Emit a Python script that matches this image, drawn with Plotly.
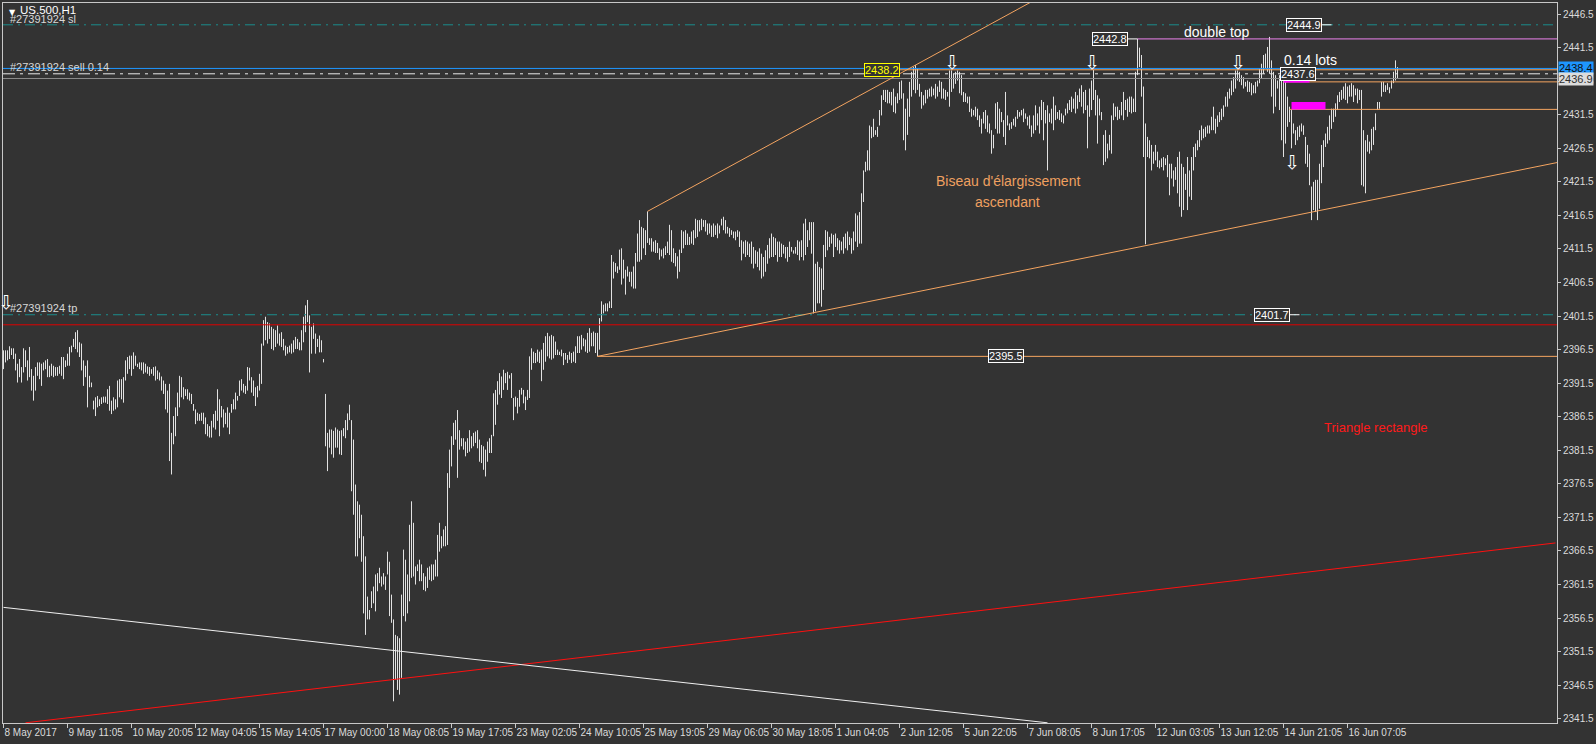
import plotly.graph_objects as go

# ---------------- data ----------------
tick_bars = [0, 32, 64, 96, 128, 160, 192, 224, 256, 288, 320, 352, 384, 416,
             448, 480, 512, 544, 576, 608, 640, 672]
tick_labels = ["8 May 2017", "9 May 11:05", "10 May 20:05", "12 May 04:05", "15 May 14:05",
               "17 May 00:00", "18 May 08:05", "19 May 17:05", "23 May 02:05", "24 May 10:05",
               "25 May 19:05", "29 May 06:05", "30 May 18:05", "1 Jun 04:05", "2 Jun 12:05",
               "5 Jun 22:05", "7 Jun 08:05", "8 Jun 17:05", "12 Jun 03:05", "13 Jun 12:05",
               "14 Jun 21:05", "16 Jun 07:05"]

# H1 bars, 8 May -> 16 May (bars 0-168)
high_a = [2396.4, 2396.4, 2396.4, 2397.0, 2396.7, 2396.7, 2395.9, 2394.4, 2395.1, 2393.9,
          2396.7, 2396.4, 2394.9, 2396.9, 2393.6, 2392.6, 2393.9, 2394.6, 2394.6, 2394.4,
          2394.6, 2394.9, 2395.1, 2394.1, 2394.4, 2394.1, 2393.9, 2393.9, 2394.1, 2395.4,
          2395.4, 2394.9, 2395.9, 2396.9, 2397.1, 2398.1, 2399.1, 2399.4, 2397.6, 2397.4,
          2394.9, 2394.1, 2394.9, 2392.6, 2391.6, 2388.9, 2389.4, 2389.6, 2389.1, 2389.4,
          2389.5, 2389.5, 2390.6, 2391.1, 2388.9, 2389.4, 2389.1, 2391.9, 2392.1, 2392.1,
          2392.4, 2394.9, 2395.4, 2395.6, 2395.6, 2396.1, 2395.6, 2394.4, 2394.6, 2394.6,
          2394.6, 2394.4, 2394.0, 2393.9, 2393.6, 2393.9, 2394.0, 2393.4, 2393.1, 2392.5,
          2391.9, 2391.4, 2390.4, 2391.4, 2384.1, 2386.6, 2387.9, 2390.1, 2392.6, 2392.4,
          2390.9, 2390.6, 2390.6, 2390.1, 2389.9, 2388.4, 2387.6, 2387.1, 2386.9, 2387.1,
          2387.1, 2386.4, 2385.4, 2385.1, 2385.9, 2386.9, 2387.4, 2390.6, 2389.1, 2388.1,
          2387.6, 2387.1, 2387.9, 2387.1, 2388.4, 2389.1, 2390.1, 2389.6, 2391.9, 2392.1,
          2391.4, 2391.1, 2393.9, 2393.8, 2392.4, 2391.9, 2390.9, 2391.1, 2392.9, 2397.4,
          2400.9, 2401.4, 2400.6, 2400.4, 2399.9, 2399.6, 2399.4, 2400.1, 2398.9, 2399.1,
          2398.1, 2397.1, 2396.9, 2397.1, 2397.4, 2397.9, 2398.4, 2398.1, 2397.6, 2399.4,
          2401.4, 2403.1, 2403.9, 2401.6, 2399.9, 2400.4, 2398.9, 2398.1, 2398.6, 2397.9,
          2395.1, 2389.9, 2384.1, 2384.6, 2384.6, 2384.4, 2384.9, 2384.6, 2384.4]
low_a = [2393.6, 2394.6, 2394.9, 2395.1, 2395.7, 2395.1, 2393.4, 2391.6, 2392.4, 2391.6,
         2393.1, 2393.9, 2391.9, 2392.4, 2390.4, 2388.9, 2390.4, 2392.6, 2392.1, 2391.1,
         2393.4, 2393.6, 2392.4, 2392.4, 2392.6, 2392.4, 2392.6, 2392.6, 2392.9, 2392.6,
         2392.1, 2393.9, 2394.1, 2394.1, 2396.1, 2396.9, 2396.6, 2396.1, 2395.4, 2393.4,
         2391.1, 2392.4, 2387.9, 2390.9, 2390.9, 2387.6, 2386.6, 2387.9, 2388.1, 2388.4,
         2388.6, 2388.6, 2388.4, 2387.4, 2386.9, 2387.4, 2387.6, 2387.9, 2389.4, 2389.1,
         2388.6, 2391.9, 2392.9, 2393.6, 2392.6, 2393.6, 2394.1, 2393.9, 2393.6, 2393.4,
         2392.9, 2393.1, 2392.9, 2392.6, 2392.9, 2392.6, 2391.9, 2392.1, 2391.9, 2390.4,
         2389.9, 2387.6, 2387.1, 2379.9, 2377.9, 2382.4, 2383.6, 2386.6, 2387.9, 2389.4,
         2389.1, 2389.6, 2389.1, 2388.9, 2388.4, 2387.4, 2385.4, 2385.9, 2385.9, 2385.9,
         2385.4, 2383.9, 2383.6, 2383.4, 2383.4, 2384.9, 2384.6, 2385.9, 2383.6, 2386.4,
         2384.9, 2385.4, 2384.9, 2383.9, 2387.1, 2387.6, 2387.6, 2388.9, 2389.6, 2390.4,
         2390.1, 2389.9, 2390.4, 2391.9, 2390.1, 2389.6, 2388.1, 2389.4, 2390.4, 2391.4,
         2397.1, 2397.9, 2397.4, 2398.1, 2396.6, 2396.4, 2396.9, 2397.4, 2397.1, 2396.9,
         2396.4, 2395.6, 2395.9, 2396.1, 2395.9, 2396.1, 2396.6, 2396.6, 2396.4, 2396.4,
         2397.6, 2399.1, 2400.6, 2393.1, 2395.9, 2398.1, 2395.9, 2396.9, 2396.1, 2396.1,
         2394.6, 2382.1, 2378.4, 2381.9, 2380.9, 2380.4, 2381.9, 2381.9, 2380.9]

# bars 169-343
high_b = [2384.5, 2384.8, 2386.0, 2387.0, 2388.3, 2386.0, 2383.1, 2376.4, 2373.9, 2373.4,
          2371.9, 2368.7, 2365.7, 2359.7, 2357.7, 2360.5, 2361.2, 2363.0, 2363.2, 2364.0,
          2362.7, 2363.2, 2362.7, 2366.4, 2364.9, 2360.0, 2356.3, 2354.0, 2353.8, 2353.5,
          2360.0, 2366.7, 2365.2, 2363.0, 2370.4, 2373.9, 2370.7, 2364.2, 2364.5, 2365.2,
          2364.5, 2363.2, 2362.7, 2364.0, 2364.2, 2364.5, 2364.5, 2365.2, 2368.9, 2370.7,
          2368.7, 2369.7, 2370.2, 2378.1, 2381.6, 2383.6, 2385.6, 2386.0, 2387.5, 2384.5,
          2383.3, 2383.3, 2382.8, 2383.3, 2384.5, 2383.6, 2384.1, 2384.3, 2384.5, 2383.1,
          2382.3, 2382.1, 2381.6, 2382.8, 2383.3, 2383.8, 2390.0, 2390.5, 2391.8, 2393.0,
          2392.5, 2393.5, 2393.0, 2393.2, 2392.7, 2393.0, 2389.3, 2389.5, 2389.3, 2390.5,
          2390.8, 2390.5, 2389.5, 2390.5, 2395.5, 2396.7, 2396.2, 2396.0, 2396.5, 2396.2,
          2396.5, 2397.5, 2398.5, 2399.0, 2398.5, 2398.7, 2398.5, 2397.7, 2396.5, 2396.2,
          2396.5, 2396.0, 2396.0, 2395.7, 2396.2, 2396.0, 2396.2, 2397.0, 2398.5, 2398.5,
          2398.7, 2398.2, 2398.0, 2399.0, 2399.7, 2399.0, 2399.2, 2399.0, 2399.0, 2401.2,
          2403.7, 2403.2, 2403.4, 2403.4, 2403.7, 2410.6, 2409.6, 2409.4, 2408.9, 2411.4,
          2411.6, 2409.9, 2408.4, 2408.9, 2408.1, 2408.1, 2408.9, 2410.9, 2413.8, 2415.8,
          2414.8, 2414.6, 2414.3, 2417.1, 2413.1, 2413.1, 2412.6, 2412.8, 2412.4, 2411.6,
          2411.4, 2411.6, 2411.9, 2412.6, 2415.1, 2414.3, 2411.6, 2410.9, 2410.4, 2411.4,
          2414.3, 2414.1, 2414.3, 2413.8, 2413.3]
low_b = [2380.8, 2383.6, 2383.3, 2384.5, 2386.0, 2375.4, 2371.9, 2365.7, 2365.7, 2368.4,
         2364.9, 2357.2, 2354.0, 2356.3, 2356.3, 2358.0, 2358.7, 2357.5, 2360.5, 2361.7,
         2361.2, 2361.5, 2360.7, 2363.0, 2356.8, 2355.8, 2344.1, 2347.3, 2345.8, 2345.1,
         2347.6, 2356.8, 2356.0, 2357.2, 2359.0, 2362.5, 2362.7, 2361.5, 2363.5, 2362.0,
         2362.0, 2360.7, 2360.5, 2361.0, 2362.2, 2362.0, 2362.2, 2362.7, 2362.7, 2366.4,
         2366.9, 2367.2, 2367.2, 2367.4, 2375.9, 2379.1, 2382.3, 2383.1, 2377.4, 2381.6,
         2382.1, 2381.6, 2380.6, 2381.1, 2381.3, 2381.8, 2382.1, 2382.6, 2381.8, 2379.8,
         2379.6, 2378.6, 2377.6, 2379.8, 2381.1, 2381.1, 2383.6, 2385.3, 2388.3, 2389.8,
         2389.3, 2390.5, 2391.5, 2390.5, 2392.2, 2389.3, 2386.0, 2388.0, 2387.0, 2388.0,
         2389.8, 2388.5, 2387.5, 2389.0, 2389.3, 2393.5, 2394.5, 2394.5, 2394.7, 2394.5,
         2391.8, 2393.5, 2394.7, 2395.5, 2395.2, 2395.0, 2395.2, 2395.7, 2395.7, 2395.7,
         2395.5, 2394.2, 2395.0, 2394.5, 2395.0, 2394.5, 2394.7, 2394.5, 2396.0, 2396.0,
         2396.5, 2397.0, 2396.2, 2396.0, 2396.2, 2397.0, 2397.0, 2396.0, 2395.5, 2396.5,
         2400.7, 2401.9, 2402.2, 2402.2, 2402.7, 2402.7, 2407.1, 2408.1, 2407.9, 2408.4,
         2406.2, 2407.1, 2404.7, 2407.4, 2406.6, 2405.9, 2405.6, 2405.6, 2409.6, 2409.6,
         2409.9, 2411.6, 2410.6, 2412.4, 2412.1, 2411.1, 2411.1, 2410.9, 2410.9, 2409.9,
         2410.4, 2410.1, 2410.6, 2410.9, 2410.6, 2409.6, 2409.4, 2408.9, 2407.1, 2408.1,
         2410.9, 2411.6, 2412.1, 2412.1, 2412.1]

# bars 344-513
high_c = [2414.1, 2414.3, 2416.0, 2415.8, 2415.8, 2416.0, 2415.8, 2415.8, 2415.3, 2415.3,
          2415.0, 2415.3, 2415.0, 2415.3, 2415.0, 2416.0, 2416.3, 2415.8, 2414.8, 2414.6,
          2414.3, 2414.1, 2414.1, 2414.3, 2414.1, 2412.8, 2412.6, 2412.8, 2412.6, 2412.3,
          2412.6, 2411.8, 2411.3, 2411.1, 2411.6, 2410.8, 2410.3, 2411.3, 2412.1, 2413.1,
          2413.8, 2413.3, 2413.1, 2412.6, 2412.6, 2412.3, 2412.1, 2411.8, 2411.8, 2412.6,
          2411.8, 2411.3, 2411.8, 2412.8, 2412.6, 2412.8, 2415.3, 2416.0, 2414.3, 2415.5,
          2415.5, 2415.5, 2409.3, 2409.6, 2408.8, 2408.6, 2412.1, 2414.3, 2414.1, 2413.3,
          2413.8, 2413.6, 2413.8, 2413.1, 2412.8, 2412.6, 2413.3, 2413.8, 2414.1, 2413.3,
          2413.1, 2414.1, 2416.8, 2416.5, 2417.0, 2419.8, 2423.2, 2424.5, 2426.2, 2429.9,
          2429.7, 2430.9, 2429.2, 2429.7, 2432.2, 2434.4, 2435.2, 2435.2, 2435.2, 2434.9,
          2434.9, 2435.4, 2434.2, 2434.7, 2436.4, 2436.6, 2434.7, 2432.4, 2433.9, 2436.4,
          2437.9, 2438.6, 2438.9, 2438.4, 2436.1, 2434.9, 2434.4, 2435.2, 2435.2, 2435.4,
          2435.7, 2435.4, 2436.1, 2435.7, 2436.6, 2436.4, 2435.4, 2435.2, 2434.9, 2438.1,
          2438.1, 2437.6, 2437.9, 2438.1, 2437.9, 2437.4, 2434.9, 2434.7, 2434.2, 2434.2,
          2432.4, 2432.2, 2432.7, 2432.4, 2431.4, 2430.9, 2431.9, 2432.2, 2431.4, 2430.2,
          2429.2, 2428.5, 2433.2, 2433.4, 2432.4, 2431.9, 2430.7, 2434.9, 2431.4, 2430.2,
          2430.4, 2430.9, 2431.2, 2432.2, 2431.9, 2432.2, 2432.4, 2431.7, 2431.2, 2431.4]
low_c = [2412.3, 2412.1, 2413.1, 2413.3, 2414.1, 2414.3, 2414.8, 2414.1, 2413.6, 2413.8,
         2413.3, 2413.3, 2413.6, 2413.1, 2413.8, 2415.0, 2414.3, 2413.8, 2413.8, 2413.3,
         2413.6, 2413.1, 2412.8, 2413.3, 2411.8, 2409.8, 2410.8, 2410.3, 2410.6, 2410.3,
         2409.3, 2408.6, 2409.3, 2408.8, 2408.3, 2407.1, 2407.4, 2408.1, 2409.3, 2410.1,
         2410.3, 2410.3, 2410.6, 2409.6, 2410.3, 2410.3, 2410.8, 2410.1, 2409.6, 2410.3,
         2411.1, 2410.8, 2410.8, 2410.6, 2409.8, 2410.3, 2409.8, 2410.6, 2411.8, 2412.8,
         2410.8, 2401.9, 2402.2, 2403.4, 2403.4, 2402.9, 2405.4, 2410.3, 2411.3, 2411.8,
         2412.3, 2410.3, 2411.8, 2411.3, 2410.8, 2411.3, 2410.8, 2411.6, 2411.3, 2412.1,
         2410.8, 2411.3, 2412.6, 2411.8, 2412.3, 2412.3, 2418.5, 2423.0, 2423.2, 2423.2,
         2428.0, 2428.2, 2428.5, 2428.2, 2429.9, 2431.4, 2433.7, 2433.4, 2433.2, 2433.2,
         2432.9, 2431.9, 2431.7, 2433.2, 2433.7, 2433.9, 2427.7, 2426.2, 2428.5, 2431.2,
         2434.2, 2435.2, 2434.7, 2435.2, 2434.2, 2432.4, 2432.9, 2433.2, 2433.9, 2434.2,
         2434.2, 2434.4, 2433.9, 2434.2, 2434.9, 2433.9, 2433.9, 2433.7, 2434.2, 2432.7,
         2434.9, 2435.4, 2436.1, 2436.6, 2434.7, 2434.4, 2433.4, 2433.4, 2433.2, 2431.9,
         2431.2, 2431.4, 2431.2, 2430.7, 2429.7, 2428.7, 2430.2, 2429.4, 2428.9, 2428.7,
         2425.7, 2426.5, 2429.4, 2428.7, 2428.7, 2430.4, 2428.2, 2427.0, 2429.9, 2429.2,
         2429.4, 2429.9, 2429.7, 2430.9, 2431.2, 2431.4, 2430.4, 2430.9, 2429.9, 2429.4]

# bars 514-697
high_d = [2429.9, 2431.4, 2432.9, 2431.7, 2432.7, 2433.7, 2433.4, 2432.2, 2432.9, 2431.7,
          2432.4, 2434.2, 2432.9, 2431.9, 2432.2, 2431.7, 2431.4, 2432.4, 2433.2, 2433.7,
          2434.2, 2433.9, 2434.9, 2434.4, 2435.4, 2435.9, 2434.9, 2435.2, 2432.9, 2435.4,
          2436.6, 2438.2, 2435.2, 2434.4, 2433.9, 2431.9, 2428.5, 2429.2, 2427.2, 2428.5,
          2431.4, 2433.2, 2432.7, 2432.7, 2432.2, 2433.4, 2434.9, 2433.7, 2433.9, 2434.2,
          2434.2, 2433.9, 2437.9, 2442.8, 2441.5, 2440.4, 2435.7, 2430.2, 2428.2, 2427.7,
          2427.0, 2426.0, 2427.0, 2426.0, 2424.7, 2425.0, 2425.2, 2425.0, 2425.5, 2424.2,
          2424.2, 2423.2, 2423.7, 2425.2, 2426.0, 2424.2, 2423.7, 2422.7, 2425.2, 2423.2,
          2425.2, 2426.7, 2427.2, 2427.7, 2429.2, 2429.9, 2429.4, 2429.7, 2429.9, 2429.9,
          2431.2, 2432.7, 2430.9, 2431.4, 2431.9, 2432.4, 2432.9, 2434.2, 2434.9, 2435.4,
          2436.6, 2437.1, 2438.1, 2438.1, 2437.9, 2437.4, 2437.1, 2436.4, 2436.6, 2436.4,
          2436.2, 2435.9, 2436.4, 2436.6, 2438.4, 2439.1, 2440.4, 2440.6, 2441.6, 2443.1,
          2439.6, 2437.9, 2437.4, 2436.6, 2437.4, 2437.6, 2437.1, 2436.6, 2434.2, 2432.7,
          2432.2, 2430.2, 2429.2, 2429.7, 2429.9, 2430.2, 2429.9, 2428.2, 2427.0, 2425.7,
          2420.8, 2421.5, 2421.8, 2421.8, 2424.2, 2427.0, 2427.7, 2428.7, 2429.7, 2431.4,
          2432.4, 2432.4, 2433.2, 2434.4, 2434.9, 2435.2, 2435.7, 2436.2, 2435.7, 2435.9,
          2436.2, 2435.9, 2435.4, 2435.4, 2435.2, 2435.2, 2429.2, 2427.7, 2428.5, 2427.5,
          2429.4, 2429.7, 2431.7, 2433.4, 2433.4, 2436.4, 2436.4, 2435.9, 2436.2, 2435.6,
          2436.6, 2437.9, 2439.6, 2438.6]
low_d = [2428.2, 2428.7, 2429.2, 2429.9, 2428.7, 2430.7, 2427.7, 2430.2, 2423.2, 2430.4,
         2430.2, 2429.2, 2430.7, 2430.9, 2430.7, 2430.4, 2430.2, 2431.4, 2431.7, 2432.2,
         2431.9, 2432.4, 2431.7, 2432.4, 2433.4, 2432.7, 2431.7, 2432.2, 2426.5, 2431.2,
         2432.2, 2433.7, 2431.4, 2427.2, 2431.4, 2430.7, 2424.0, 2424.5, 2425.0, 2426.2,
         2425.7, 2430.7, 2431.2, 2430.7, 2430.9, 2431.4, 2430.7, 2432.2, 2431.2, 2431.9,
         2431.7, 2431.9, 2431.9, 2437.4, 2438.6, 2434.2, 2425.2, 2412.2, 2425.2, 2425.0,
         2423.2, 2424.2, 2424.7, 2423.7, 2423.5, 2423.7, 2423.2, 2424.0, 2422.2, 2419.5,
         2422.0, 2420.8, 2421.8, 2419.8, 2417.8, 2416.3, 2417.3, 2420.3, 2417.3, 2419.3,
         2418.8, 2423.2, 2425.2, 2426.2, 2426.7, 2427.7, 2428.0, 2428.2, 2428.7, 2428.7,
         2429.2, 2429.2, 2428.7, 2429.7, 2430.4, 2430.7, 2431.2, 2432.7, 2432.7, 2433.9,
         2434.4, 2434.9, 2435.4, 2436.6, 2436.4, 2435.9, 2435.4, 2435.7, 2434.9, 2434.9,
         2434.4, 2434.7, 2434.7, 2435.7, 2436.2, 2436.9, 2437.6, 2438.4, 2437.9, 2437.6,
         2434.2, 2431.7, 2432.7, 2435.4, 2432.2, 2427.7, 2425.2, 2427.2, 2429.7, 2430.4,
         2426.5, 2428.7, 2427.0, 2427.7, 2428.2, 2429.0, 2428.5, 2424.2, 2423.7, 2421.0,
         2415.8, 2417.3, 2417.0, 2415.8, 2417.5, 2421.3, 2423.7, 2426.7, 2427.2, 2427.7,
         2429.4, 2430.4, 2431.2, 2432.2, 2433.4, 2433.7, 2433.9, 2433.7, 2433.2, 2434.2,
         2434.2, 2433.4, 2434.4, 2433.2, 2433.7, 2421.0, 2420.8, 2419.8, 2426.0, 2425.7,
         2426.2, 2427.0, 2429.2, 2432.2, 2432.4, 2434.2, 2434.9, 2434.9, 2435.2, 2434.7,
         2435.4, 2436.2, 2436.6, 2436.9]

# price levels (horizontal lines)
sl_level = 2444.9
tp_level = 2401.7
order_level = 2437.6
bid_level = 2438.4
ask_level = 2436.9
red_level = 2400.2
# partial horizontal levels: (start bar, price)
orange_levels = [(297, 2395.5), (448, 2438.2), (640, 2436.4), (643, 2432.3)]
violet_level = (567, 2442.8)
# trend lines: two anchor points (bar, price)
wedge_upper = [(322, 2417.1), (456, 2438.9)]
wedge_lower = [(297, 2395.5), (405, 2402.0)]
red_trend = [(11, 2340.9), (776, 2367.7)]
white_trend = [(0, 2358.1), (522, 2340.9)]
# magenta marks
magenta_seg = (640, 653, 2436.5)
magenta_box = (644, 661, 2432.3, 2433.4)

# ---------------- figure ----------------
highs = high_a + high_b + high_c + high_d
lows = low_a + low_b + low_c + low_d
n = min(len(highs), len(lows))

X_MIN = -0.25
X_MAX = X_MIN + 1554 / 2.0
Y_MIN, Y_MAX = 2340.87, 2448.15
BG = "#333333"
FONT = "Liberation Sans"

# each H1 bar as a high-low stick
bx, by = [], []
for i in range(n):
    bx += [i, i, None]
    by += [lows[i], highs[i], None]

fig = go.Figure()
fig.add_trace(go.Scatter(x=bx, y=by, mode="lines", line=dict(color="#E2E2E2", width=1),
                         hoverinfo="skip", connectgaps=False))

shapes = []


def hline(y, color, dash="solid", width=1, x0=None):
    if x0 is None:
        shapes.append(dict(type="line", xref="paper", yref="y", x0=0, x1=1, y0=y, y1=y,
                           line=dict(color=color, width=width, dash=dash), layer="above"))
    else:
        shapes.append(dict(type="line", xref="x", yref="y", x0=x0, x1=X_MAX, y0=y, y1=y,
                           line=dict(color=color, width=width, dash=dash), layer="above"))


def ray(pts, color, width=1):
    (xa, ya), (xb, yb) = pts
    slope = (yb - ya) / (xb - xa)
    shapes.append(dict(type="line", xref="x", yref="y", x0=xa, y0=ya, x1=X_MAX,
                       y1=ya + slope * (X_MAX - xa), line=dict(color=color, width=width),
                       layer="above"))


def seg(pts, color, width=1):
    (xa, ya), (xb, yb) = pts
    shapes.append(dict(type="line", xref="x", yref="y", x0=xa, y0=ya, x1=xb, y1=yb,
                       line=dict(color=color, width=width), layer="above"))


ORANGE = "#F4A460"
TEAL = "#1B8C8C"
RED = "#E00000"

hline(red_level, RED)
hline(tp_level, TEAL, dash="10px,5px,2px,5px")
hline(sl_level, TEAL, dash="10px,5px,2px,5px")
hline(ask_level, "#8A8A8A")
for x0, y in orange_levels:
    hline(y, ORANGE, x0=x0)
hline(order_level, "#E8E8E8", dash="12px,5px,3px,5px")
hline(bid_level, "#1E96FF")
hline(violet_level[1], "#EE82EE", x0=violet_level[0])

ray(wedge_upper, ORANGE)
ray(wedge_lower, ORANGE)
seg(red_trend, "#FF1010")
seg(white_trend, "#F0F0F0")

# short white connectors of the price labels
seg([(562, violet_level[1]), (567, violet_level[1])], "#FFFFFF")
seg([(659, sl_level), (664, sl_level)], "#FFFFFF")
seg([(643, tp_level), (648, tp_level)], "#FFFFFF")

shapes.append(dict(type="line", xref="x", yref="y", x0=magenta_seg[0], x1=magenta_seg[1],
                   y0=magenta_seg[2], y1=magenta_seg[2], line=dict(color="#FF00FF", width=3),
                   layer="above"))
shapes.append(dict(type="rect", xref="x", yref="y", x0=magenta_box[0], x1=magenta_box[1],
                   y0=magenta_box[2], y1=magenta_box[3], fillcolor="#FF00FF",
                   line=dict(width=0), layer="above"))

ann = []


def box(x, y, text, color="#FFFFFF"):
    ann.append(dict(x=x, y=y, xref="x", yref="y", text=text, showarrow=False,
                    font=dict(family=FONT, size=11, color=color), bgcolor=BG,
                    bordercolor=color, borderwidth=1, borderpad=0,
                    xanchor="center", yanchor="middle"))


box(650.2, sl_level, "2444.9")
box(553.0, violet_level[1], "2442.8")
box(647.2, order_level, "2437.6")
box(439.0, 2438.2, "2438.2", color="#FFFF00")
box(634.2, tp_level, "2401.7")
box(501.2, 2395.5, "2395.5")


def text(x, y, t, size, color, xref="x", xanchor="center", yanchor="middle", yshift=0,
         family=FONT):
    ann.append(dict(x=x, y=y, xref=xref, yref="y", text=t, showarrow=False,
                    font=dict(family=family, size=size, color=color),
                    xanchor=xanchor, yanchor=yanchor, yshift=yshift))


text(606.7, 2443.8, "double top", 14, "#FFFFFF")
text(653.7, 2439.6, "0.14 lots", 14, "#FFFFFF")
text(502.2, 2421.6, "Biseau d'élargissement", 14, "#EFA060")
text(502.2, 2418.5, "ascendant", 14, "#EFA060")
text(686.2, 2384.9, "Triangle rectangle", 13, "#FF1A1A")

# down arrows (signals)
for ax, ay in [(474.2, 2439.4), (544.2, 2439.4), (617.2, 2439.4), (644.2, 2424.4), (1.2, 2403.6)]:
    text(ax, ay, "⇩", 19, "#FFFFFF", family="DejaVu Sans")

# labels of the trade lines at the left edge
text(0.0035, sl_level, "#27391924 sl", 11, "#D8D8D8", xref="paper", xanchor="left",
     yanchor="bottom", yshift=-2)
text(0.0035, order_level, "#27391924 sell 0.14", 11, "#D8D8D8", xref="paper", xanchor="left",
     yanchor="bottom", yshift=-1)
text(0.0035, tp_level, "#27391924 tp", 11, "#D8D8D8", xref="paper", xanchor="left",
     yanchor="bottom", yshift=-1)

# symbol title
ann.append(dict(x=0.0025, y=1, xref="paper", yref="paper", text="▼", showarrow=False,
                font=dict(family="DejaVu Sans", size=8, color="#FFFFFF"),
                xanchor="left", yanchor="top", yshift=-3))
ann.append(dict(x=0.0095, y=1, xref="paper", yref="paper", text="US.500,H1", showarrow=False,
                font=dict(family=FONT, size=11.5, color="#FFFFFF"),
                xanchor="left", yanchor="top", yshift=1))

# right-axis price markers
ann.append(dict(x=1, y=bid_level, xref="paper", yref="y", text="2438.4", showarrow=False,
                font=dict(family=FONT, size=11, color="#101010"), bgcolor="#1E96FF",
                borderpad=0, xanchor="left", yanchor="middle", xshift=1))
ann.append(dict(x=1, y=ask_level, xref="paper", yref="y", text="2436.9", showarrow=False,
                font=dict(family=FONT, size=11, color="#303030"), bgcolor="#DCDCDC",
                borderpad=0, xanchor="left", yanchor="middle", xshift=1))

fig.update_layout(
    width=1596, height=744,
    margin=dict(l=3, r=39, t=3, b=21, autoexpand=False),
    paper_bgcolor=BG, plot_bgcolor=BG,
    showlegend=False,
    shapes=shapes, annotations=ann,
    xaxis=dict(range=[X_MIN, X_MAX], tickmode="array", tickvals=tick_bars, ticktext=tick_labels,
               tickangle=0, automargin=False,
               ticklabelposition="outside right", ticks="outside", ticklen=4,
               tickcolor="#C8C8C8", tickfont=dict(family=FONT, size=10, color="#DCDCDC"),
               showgrid=False, zeroline=False, showline=True, linecolor="#C8C8C8",
               linewidth=1, mirror=True, fixedrange=True),
    yaxis=dict(range=[Y_MIN, Y_MAX], side="right", tick0=2341.5, dtick=5, ticks="outside",
               tickformat=".1f", automargin=False,
               ticklen=3, tickcolor="#C8C8C8",
               tickfont=dict(family=FONT, size=10, color="#DCDCDC"), showgrid=False,
               zeroline=False, showline=True, linecolor="#C8C8C8", linewidth=1, mirror=True,
               fixedrange=True),
)

fig.write_html("out.html", config={"displayModeBar": False},
               post_script="document.body.style.margin='0';document.body.style.overflow='hidden';"
                           "document.body.style.background='#333333';")
